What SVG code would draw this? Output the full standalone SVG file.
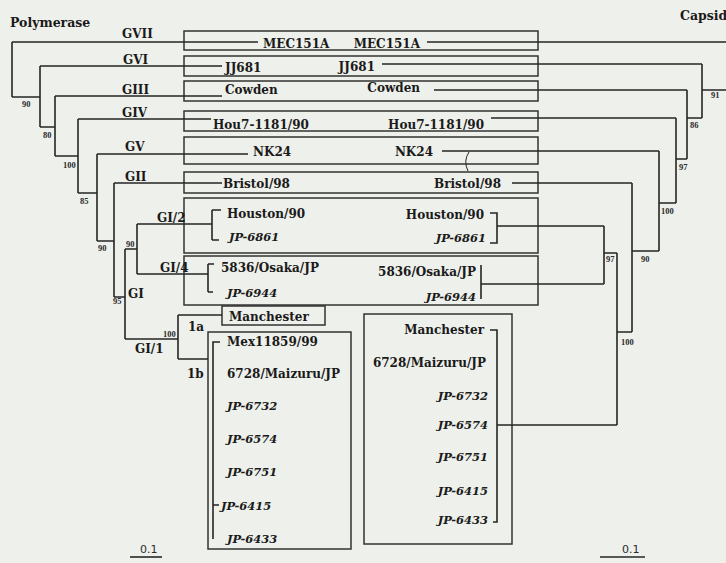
<svg xmlns="http://www.w3.org/2000/svg" width="726" height="563" viewBox="0 0 726 563">
<style>
.ln{stroke:#262626;stroke-width:1.6;fill:none}
.bx{stroke:#333;stroke-width:1.5;fill:none}
.t{font-family:"DejaVu Serif",serif;font-weight:bold;font-size:12px;fill:#1a1a1a}
.ti{font-family:"DejaVu Serif",serif;font-weight:bold;font-style:italic;font-size:11.5px;fill:#1a1a1a}
.r{text-anchor:end}
.bs{font-family:"Liberation Serif",serif;font-weight:bold;font-size:8.5px;fill:#2b2b2b}
.sc{font-family:"DejaVu Sans",sans-serif;font-size:11px;fill:#2b2b2b}
</style>
<rect width="726" height="563" fill="#eef0eb"/>
<text class="t" x="10" y="27" style="font-size:12.5px">Polymerase</text>
<text class="t" x="680" y="20" style="font-size:12.5px">Capsid</text>

<g id="boxes">
<g id="box-GVII"><rect class="bx" x="184" y="31" width="354" height="19"/></g>
<g id="box-GVI"><rect class="bx" x="184" y="56" width="354" height="20"/></g>
<g id="box-GIII"><rect class="bx" x="184" y="81" width="354" height="20"/></g>
<g id="box-GIV"><rect class="bx" x="184" y="111" width="354" height="20"/></g>
<g id="box-GV"><rect class="bx" x="184" y="137" width="354" height="27"/></g>
<g id="box-GII"><rect class="bx" x="184" y="172" width="354" height="21"/></g>
<g id="box-GI2"><rect class="bx" x="184" y="198" width="354" height="55"/></g>
<g id="box-GI4"><rect class="bx" x="184" y="256" width="354" height="49"/></g>
<g id="box-1a"><rect class="bx" x="222" y="306" width="103" height="19"/></g>
<g id="box-1b"><rect class="bx" x="208" y="332" width="143" height="217"/></g>
<g id="box-capsid-GI1"><rect class="bx" x="364" y="314" width="148" height="230"/></g>
</g>

<g id="connectors">
<path class="ln" d="M12 42H258M12 42V97M12 97H40M40 66V127M40 66H222M40 127H55M55 96V156M55 96H222M55 156H78M78 119V193M78 119H211M78 193H97M97 154V241M97 154H248M97 241H114M114 183V297M114 183H222M114 297H125M125 249V339M125 249H137M137 224V274M137 224H212M212 210V240M212 210H221M212 240H219M137 274H208M208 264V292M208 264H214M208 292H213M125 339H178M178 315V359M178 315H222M178 359H208M220 342H213V539M213 505H219"/>
<path class="ln" d="M427 42H726M382 64H702M702 64V118M702 90H726M434 90H687M687 90V159M687 118H702M491 118H676M676 118V203M676 159H687M442 151H659M659 151V251M659 203H676M512 183H632M632 183V332M632 251H659M490 213H497V243H490M497 226H604M481 265V299M481 284H604M604 226V284M604 253H617M617 253V425M617 332H632M490 330H497V522H493M497 425H617"/>
<path class="ln" d="M469 152Q463 161 468 171" style="stroke-width:1"/>
</g>

<g id="group-labels">
<text class="t" x="122" y="38">GVII</text>
<text class="t" x="123" y="64">GVI</text>
<text class="t" x="122" y="94">GIII</text>
<text class="t" x="122" y="117">GIV</text>
<text class="t" x="125" y="151">GV</text>
<text class="t" x="125" y="181">GII</text>
<text class="t" x="157" y="222">GI/2</text>
<text class="t" x="160" y="272">GI/4</text>
<text class="t" x="128" y="298">GI</text>
<text class="t" x="135" y="353">GI/1</text>
<text class="t" x="188" y="331">1a</text>
<text class="t" x="187" y="378">1b</text>
</g>

<g id="bootstrap">
<text class="bs" x="22" y="107">90</text>
<text class="bs" x="43" y="138">80</text>
<text class="bs" x="63" y="168">100</text>
<text class="bs" x="80" y="204">85</text>
<text class="bs" x="98" y="251">90</text>
<text class="bs" x="126" y="247">90</text>
<text class="bs" x="113" y="304">95</text>
<text class="bs" x="163" y="337">100</text>
<text class="bs" x="711" y="98">91</text>
<text class="bs" x="690" y="128">86</text>
<text class="bs" x="679" y="170">97</text>
<text class="bs" x="661" y="214">100</text>
<text class="bs" x="641" y="262">90</text>
<text class="bs" x="606" y="262">97</text>
<text class="bs" x="621" y="345">100</text>
</g>

<g id="leaves-polymerase">
<text class="t" x="263" y="48">MEC151A</text>
<text class="t" x="225" y="72">JJ681</text>
<text class="t" x="225" y="94">Cowden</text>
<text class="t" x="213" y="129">Hou7-1181/90</text>
<text class="t" x="253" y="156">NK24</text>
<text class="t" x="223" y="188">Bristol/98</text>
<text class="t" x="227" y="218">Houston/90</text>
<text class="ti" x="229" y="241">JP-6861</text>
<text class="t" x="221" y="272">5836/Osaka/JP</text>
<text class="ti" x="227" y="297">JP-6944</text>
<text class="t" x="229" y="321">Manchester</text>
<text class="t" x="227" y="346">Mex11859/99</text>
<text class="t" x="227" y="378">6728/Maizuru/JP</text>
<text class="ti" x="227" y="410">JP-6732</text>
<text class="ti" x="227" y="443">JP-6574</text>
<text class="ti" x="227" y="476">JP-6751</text>
<text class="ti" x="221" y="510">JP-6415</text>
<text class="ti" x="227" y="543">JP-6433</text>
</g>

<g id="leaves-capsid">
<text class="t r" x="420" y="48">MEC151A</text>
<text class="t r" x="375" y="71">JJ681</text>
<text class="t r" x="420" y="92">Cowden</text>
<text class="t r" x="484" y="129">Hou7-1181/90</text>
<text class="t r" x="433" y="156">NK24</text>
<text class="t r" x="501" y="188">Bristol/98</text>
<text class="t r" x="484" y="219">Houston/90</text>
<text class="ti r" x="486" y="242">JP-6861</text>
<text class="t r" x="476" y="276">5836/Osaka/JP</text>
<text class="ti r" x="476" y="301">JP-6944</text>
<text class="t r" x="484" y="334">Manchester</text>
<text class="t r" x="486" y="367">6728/Maizuru/JP</text>
<text class="ti r" x="488" y="400">JP-6732</text>
<text class="ti r" x="488" y="429">JP-6574</text>
<text class="ti r" x="488" y="461">JP-6751</text>
<text class="ti r" x="488" y="495">JP-6415</text>
<text class="ti r" x="488" y="524">JP-6433</text>
</g>

<g id="scale-bars">
<text class="sc" x="140" y="553">0.1</text>
<path class="ln" d="M130 557H162"/>
<text class="sc" x="622" y="553">0.1</text>
<path class="ln" d="M600 557H645"/>
</g>
</svg>
